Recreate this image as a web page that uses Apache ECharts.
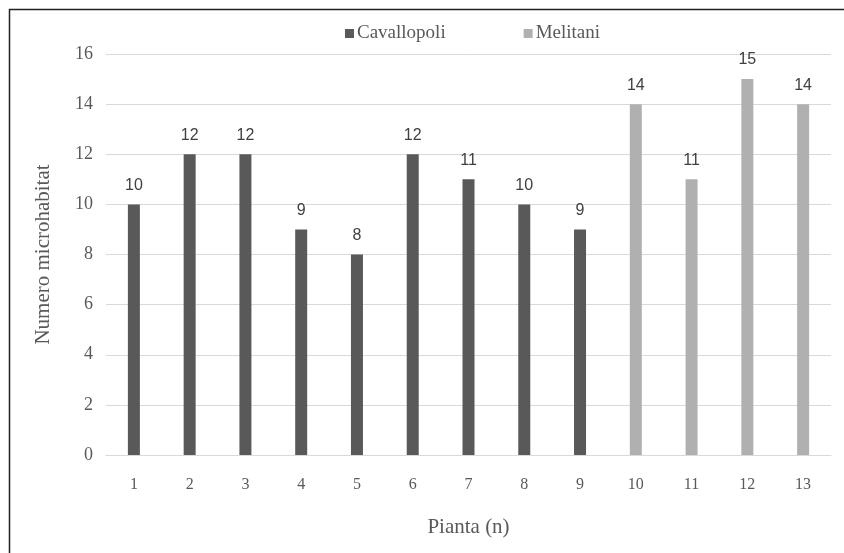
<!DOCTYPE html>
<html>
<head>
<meta charset="utf-8">
<script src="https://cdn.jsdelivr.net/npm/echarts@6/dist/echarts.min.js"></script>
<style>
html,body{margin:0;padding:0;background:#fff;}
#c{width:844px;height:553px;}
</style>
</head>
<body>
<div id="c"></div>
<script>
var categories = ['1','2','3','4','5','6','7','8','9','10','11','12','13'];
var cavallopoli = [10,12,12,9,8,12,11,10,9,null,null,null,null];
var melitani = [null,null,null,null,null,null,null,null,null,14,11,15,14];
var yTicks = [0,2,4,6,8,10,12,14,16];

var chart = echarts.init(document.getElementById('c'));
var serif = '"Liberation Serif","Times New Roman",serif';
var sans = '"Liberation Sans","Open Sans",sans-serif';
chart.setOption({
  animation: false,
  graphic: [{
    type: 'rect', left: 7, top: 7, z: 100,
    shape: {x: 0, y: 0, width: 850, height: 560},
    style: {fill: 'none', stroke: '#222', lineWidth: 1.5}
  }],
  legend: {
    top: 19, left: 340,
    itemWidth: 9, itemHeight: 9, itemGap: 78,
    icon: 'rect',
    textStyle: {fontFamily: serif, fontSize: 19, color: '#595959', padding: [0,0,0,-2]},
    data: ['Cavallopoli','Melitani']
  },
  grid: {left: 106, right: 13, top: 54, bottom: 98, containLabel: false},
  xAxis: {
    type: 'category', data: categories,
    name: 'Pianta (n)', nameLocation: 'middle', nameGap: 62,
    nameTextStyle: {fontFamily: serif, fontSize: 21, color: '#595959'},
    axisLine: {show: true, lineStyle: {color: '#d9d9d9', width: 1}},
    axisTick: {show: false},
    axisLabel: {fontFamily: serif, fontSize: 16, color: '#595959', margin: 22}
  },
  yAxis: {
    type: 'value', min: yTicks[0], max: yTicks[yTicks.length-1], interval: 2,
    name: 'Numero microhabitat', nameLocation: 'middle', nameGap: 52, nameRotate: 90,
    nameTextStyle: {fontFamily: serif, fontSize: 21, color: '#595959'},
    axisLine: {show: false}, axisTick: {show: false},
    axisLabel: {fontFamily: serif, fontSize: 18, color: '#595959', margin: 13},
    splitLine: {lineStyle: {color: '#d9d9d9', width: 1}}
  },
  series: [{
    name: 'Cavallopoli', type: 'bar', stack: 'a', data: cavallopoli,
    barWidth: 12, itemStyle: {color: '#595959'},
    label: {show: true, position: 'top', distance: 11, fontFamily: sans, fontSize: 16, color: '#404040'}
  },{
    name: 'Melitani', type: 'bar', stack: 'a', data: melitani,
    barWidth: 12, itemStyle: {color: '#b0b0b0'},
    label: {show: true, position: 'top', distance: 11, fontFamily: sans, fontSize: 16, color: '#404040'}
  }]
});
</script>
</body>
</html>
